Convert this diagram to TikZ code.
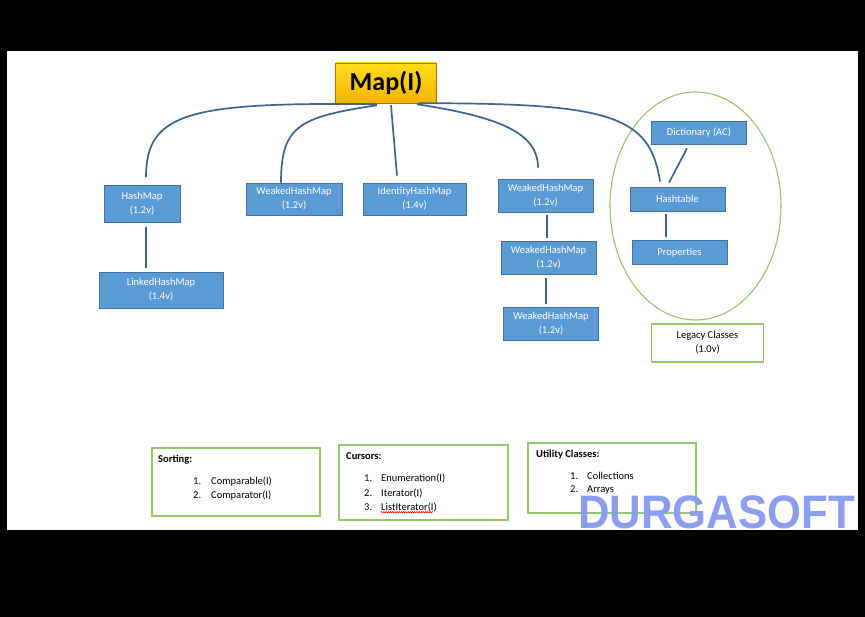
\documentclass[tikz,border=0pt]{standalone}
\usepackage{fontspec}
\setmainfont{Carlito}
\newfontfamily\libsans[FakeStretch=0.93]{Liberation Sans}
\usetikzlibrary{calc,shapes.geometric,decorations.pathmorphing}
\definecolor{boxfill}{RGB}{91,155,213}
\definecolor{boxline}{RGB}{65,113,156}
\definecolor{conn}{RGB}{62,100,142}
\definecolor{grn}{RGB}{150,198,112}
\definecolor{wm}{RGB}{140,156,238}
\tikzset{
  cls/.style={draw=boxline, line width=0.8pt, fill=boxfill, text=white, inner sep=0pt,
    align=center, font=\fontsize{10.5}{14}\selectfont},
  grbox/.style={draw=grn, line width=1.1pt, fill=white, inner sep=0pt},
  wire/.style={draw=conn, line width=1.7pt},
  lbl/.style={anchor=base west, inner sep=0pt, font=\fontsize{10.5}{13}\selectfont},
  ttl/.style={anchor=base west, inner sep=0pt, font=\fontsize{10.5}{13}\selectfont\bfseries},
}
\begin{document}
\begin{tikzpicture}[x=1pt,y=-1pt]
\useasboundingbox (0,0) rectangle (865,617);
\fill[black] (0,0) rectangle (865,617);
\fill[white] (7,51) rectangle (858,530);

% legacy group ellipse
\node[ellipse, draw=grn, line width=1.1pt, minimum width=171pt, minimum height=228pt, inner sep=0pt] (legacygroup) at (695.5,206) {};

% nodes
\node[draw=orange!80!black, line width=0.5pt, top color=yellow!70!orange!90, bottom color={rgb,255:red,245;green,180;blue,0}, minimum width=101pt, minimum height=40pt, inner sep=0pt, font=\fontsize{26}{26}\selectfont\bfseries] (map) at (386,83) {Map(I)};
\node[cls, minimum width=76pt, minimum height=37pt] (hashmap) at (142,204) {HashMap\\(1.2v)};
\node[cls, minimum width=124pt, minimum height=36pt] (linked) at (161,290) {LinkedHashMap\\(1.4v)};
\node[cls, minimum width=96pt, minimum height=32pt] (whma) at (294,199) {WeakedHashMap\\(1.2v)};
\node[cls, minimum width=103pt, minimum height=32pt] (ident) at (414.5,199) {IdentityHashMap\\(1.4v)};
\node[cls, minimum width=95pt, minimum height=33pt] (whmb) at (545.5,195.5) {WeakedHashMap\\(1.2v)};
\node[cls, minimum width=95pt, minimum height=33pt] (whmc) at (548.5,258) {WeakedHashMap\\(1.2v)};
\node[cls, minimum width=95pt, minimum height=33pt] (whmd) at (551,324) {WeakedHashMap\\(1.2v)};
\node[cls, minimum width=95pt, minimum height=23pt] (dict) at (699,132.5) {Dictionary (AC)};
\node[cls, minimum width=95pt, minimum height=24pt] (htable) at (677.5,199) {Hashtable};
\node[cls, minimum width=95pt, minimum height=24pt] (props) at (679.5,252.5) {Properties};
\node[grbox, minimum width=112pt, minimum height=38pt, align=center, font=\fontsize{10.5}{14}\selectfont] (legacy) at (707.5,343) {Legacy Classes\\(1.0v)};

% connectors from Map
\draw[wire] ($(map.south)+(-9,1)$) .. controls (190,102) and (146,112) .. ($(hashmap.north)+(4,-8)$);
\draw[wire] ($(map.south)+(-9,2)$) .. controls (300,117) and (281,125) .. ($(whma.north)+(-13,0)$);
\draw[wire] ($(map.south)+(5,2)$) -- ($(ident.north)+(-17.5,-7)$);
\draw[wire] ($(map.south)+(31,1)$) .. controls (500,117) and (538,133) .. ($(whmb.north)+(-7.5,-11)$);
\draw[wire] ($(map.south)+(33,0)$) .. controls (610,103) and (650,115) .. ($(htable.north)+(-17.5,-5)$);

% other connectors
\draw[wire] ($(hashmap.south)+(4,4.5)$) -- ($(linked.north)+(-15,-4)$);
\draw[wire] ($(whmb.south)+(1.5,3)$) -- ($(whmc.north)+(-1.5,-3)$);
\draw[wire] ($(whmc.south)+(-2.5,3.5)$) -- ($(whmd.north)+(-5,-3)$);
\draw[wire] ($(dict.south)+(-12,4)$) -- ($(htable.north)+(-8.5,-4)$);
\draw[wire] ($(htable.south)+(-11.5,3)$) -- ($(props.north)+(-13.5,-3.5)$);

% bottom boxes
\node[grbox, minimum width=168pt, minimum height=68pt] (sortbox) at (236,482) {};
\node[ttl] (sortttl) at (158,463) {Sorting:};
\node[lbl] (s1n) at (193,484) {1.};
\node[lbl] (s1t) at (211,484) {Comparable(I)};
\node[lbl] (s2n) at (193,498) {2.};
\node[lbl] (s2t) at (211,498) {Comparator(I)};

\node[grbox, minimum width=169pt, minimum height=75pt] (curbox) at (423.5,482.5) {};
\node[ttl] (curttl) at (346,460) {Cursors:};
\node[lbl] (c1n) at (364,482) {1.};
\node[lbl] (c1t) at (381,482) {Enumeration(I)};
\node[lbl] (c2n) at (364,496) {2.};
\node[lbl] (c2t) at (381,496) {Iterator(I)};
\node[lbl] (c3n) at (364,510) {3.};
\node[lbl] (c3t) at (381,510) {ListIterator(I)};
\draw[red, line width=0.6pt, decorate, decoration={snake, amplitude=0.7pt, segment length=2.2pt}] ($(c3t.base west)+(0,2.2)$) -- ++(52,0);

\node[grbox, minimum width=168pt, minimum height=70pt] (utilbox) at (612,478) {};
\node[ttl] (utilttl) at (536,457) {Utility Classes:};
\node[lbl] (u1n) at (570,479) {1.};
\node[lbl] (u1t) at (587,479) {Collections};
\node[lbl] (u2n) at (570,492) {2.};
\node[lbl] (u2t) at (587,492) {Arrays};

% watermark
\node[anchor=base west, inner sep=0pt, text=wm, font=\fontsize{47}{47}\selectfont\libsans\bfseries] (durga) at (578,528) {DURGASOFT};
\end{tikzpicture}
\end{document}
